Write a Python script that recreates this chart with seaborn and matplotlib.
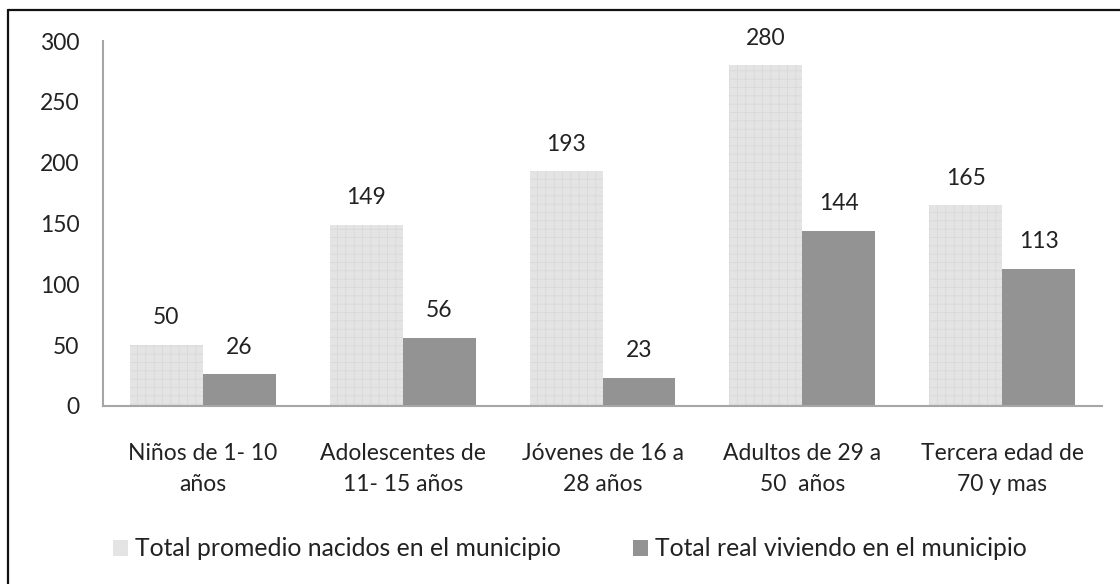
import matplotlib
matplotlib.use("Agg")
import matplotlib.pyplot as plt
import seaborn as sns
import pandas as pd
from matplotlib.lines import Line2D
from matplotlib.patches import Patch

categories = ["Niños de 1- 10\naños", "Adolescentes de\n11- 15 años", "Jóvenes de 16 a\n28 años",
              "Adultos de 29 a\n50  años", "Tercera edad de\n70 y mas"]
series_names = ["Total promedio nacidos en el municipio", "Total real viviendo en el municipio"]
nacidos = [50, 149, 193, 280, 165]
viviendo = [26, 56, 23, 144, 113]
yticks = [0, 50, 100, 150, 200, 250, 300]

df = pd.DataFrame({
    "cat": categories * 2,
    "serie": [series_names[0]] * 5 + [series_names[1]] * 5,
    "val": nacidos + viviendo,
})

sns.set_theme(style="white")
plt.rcParams['font.family'] = ['Lato', 'DejaVu Sans']
plt.rcParams['hatch.linewidth'] = 0.6

colors = ["#e4e4e4", "#939393"]
fs = 16.5
fig = plt.figure(figsize=(11.2, 5.84), dpi=100)
ax = fig.add_axes([103/1120, 1-406/584, (1102-103)/1120, (406-41)/584])
sns.barplot(data=df, x="cat", y="val", hue="serie", palette=colors, width=0.73,
            saturation=1, ax=ax, legend=False, order=categories, hue_order=series_names)

for i, cont in enumerate(ax.containers):
    for bar in cont:
        bar.set_edgecolor("none")
        if i == 0:
            bar.set_hatch("++")
            bar.set_edgecolor("#d9d9d9")
            bar.set_linewidth(0)
    ax.bar_label(cont, fmt="%d", padding=12, fontsize=fs, color="#222222")

ax.set_ylim(0, 300)
ax.set_xlim(-0.5, 4.5)
ax.set_yticks(yticks)
ax.set_xlabel("")
ax.set_ylabel("")
ax.tick_params(axis="y", labelsize=fs, pad=17, length=0, colors="#222222")
ax.tick_params(axis="x", labelsize=fs, pad=27, length=0, colors="#222222")
for lab in ax.get_xticklabels():
    lab.set_linespacing(1.55)
for s in ["top", "right"]:
    ax.spines[s].set_visible(False)
for s in ["left", "bottom"]:
    ax.spines[s].set_color("#a6a6a6")
    ax.spines[s].set_linewidth(1.5)

handles = [Patch(facecolor=colors[0], edgecolor="none"), Patch(facecolor=colors[1], edgecolor="none")]
fig.legend(handles, series_names, loc="center", bbox_to_anchor=(570/1120, 1-549/584), ncol=2,
           frameon=False, fontsize=17.8, handlelength=0.6, handleheight=0.6, handletextpad=0.3,
           columnspacing=2.9, labelcolor="#222222")

# outer border (left and top visible)
fig.add_artist(Line2D([8/1120, 8/1120], [0, 1-10/584], color="#111111", lw=1.6, transform=fig.transFigure))
fig.add_artist(Line2D([8/1120, 1], [1-10/584, 1-10/584], color="#111111", lw=1.6, transform=fig.transFigure))

fig.savefig("out.png", dpi=100)
